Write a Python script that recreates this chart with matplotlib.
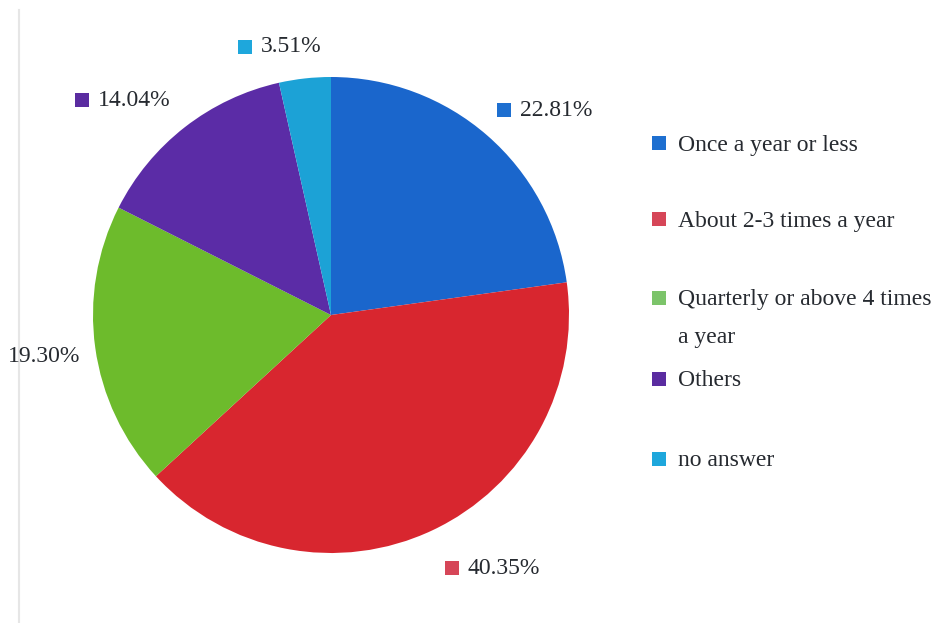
import matplotlib
matplotlib.use("Agg")
import matplotlib.pyplot as plt
from matplotlib.patches import Rectangle

categories = ["Once a year or less", "About 2-3 times a year",
              "Quarterly or above 4 times\na year", "Others", "no answer"]
values = [22.81, 40.35, 19.30, 14.04, 3.51]

slice_colors = ["#1a66cc", "#d8262f", "#6dbb2c", "#5b2ca6", "#1ca2d6"]
marker_colors = ["#1e6fd0", "#d64658", "#7cc46a", "#5a2ca0", "#1ea7dc"]

W, H = 932, 623
plt.rcParams['font.family'] = ['Liberation Serif', 'DejaVu Serif']

fig = plt.figure(figsize=(W / 100, H / 100), dpi=100)
ax = fig.add_axes([0, 0, 1, 1])

cx, cy, r = 331, H - 315, 238
ax.pie(values, colors=slice_colors, startangle=90, counterclock=False,
       center=(cx, cy), radius=r, frame=True,
       wedgeprops=dict(linewidth=0))
ax.set_xlim(0, W)
ax.set_ylim(0, H)
ax.set_aspect('equal')
ax.axis('off')

fs = 17
tc = "#262a30"
ms = 14

def marker(x, y, color):
    ax.add_patch(Rectangle((x, H - y - ms / 2), ms, ms, facecolor=color,
                           edgecolor='none'))

# percentage labels: text left x, center y (pixels from top), marker shown
label_pos = [(520, 110, True), (468, 568, True), (8, 357, False),
             (98, 100, True), (261, 47, True)]
for v, c, (x, y, show) in zip(values, marker_colors, label_pos):
    if show:
        marker(x - 23, y, c)
    ax.text(x, H - y, f"{v:.2f}%", fontsize=fs, color=tc,
            ha='left', va='center')

# legend
leg_y = [145, 221, 300, 381, 461]
for cat, c, y in zip(categories, marker_colors, leg_y):
    marker(652, y - 2, c)
    for i, line in enumerate(cat.split("\n")):
        ax.text(678, H - (y + i * 37), line, fontsize=fs, color=tc,
                ha='left', va='center')

# faint frame line at left
ax.plot([19, 19], [0, H - 10], color="#e6e6e6", linewidth=1.5)

fig.savefig("out.png", dpi=100, facecolor='white')
